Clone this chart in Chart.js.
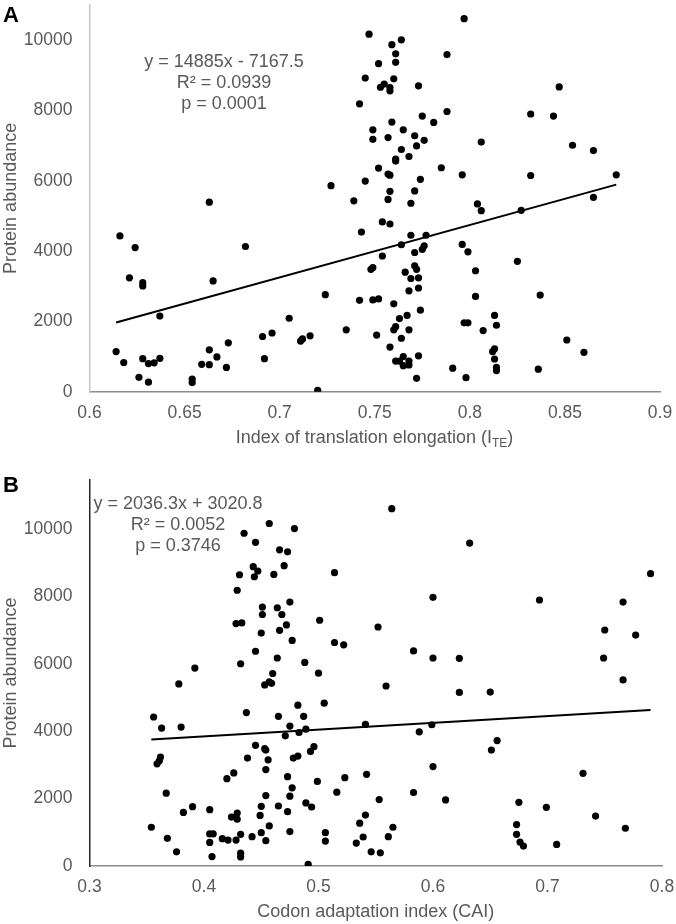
<!DOCTYPE html>
<html lang="en">
<head>
<meta charset="UTF-8">
<title>Protein abundance vs ITE and CAI</title>
<script src="https://cdn.jsdelivr.net/npm/chart.js"></script>
<style>
  body { margin: 0; background: #fff; font-family: "Liberation Sans", Arial, sans-serif; color: #595959; }
  #page { position: relative; width: 676px; height: 924px; overflow: hidden; }
  canvas { position: absolute; left: 0; }
  #chartA { top: 0; }
  #chartB { top: 450px; }
  .panel { position: absolute; left: 3px; font: bold 22px "Liberation Sans", Arial, sans-serif; line-height: 22px; color: #000; }
  .eq { position: absolute; width: 300px; text-align: center; font-size: 18px; line-height: 21px; }
  .xtitle { position: absolute; left: 89px; width: 571px; text-align: center; font-size: 18px; line-height: 21px; }
  sub { font-size: 12px; line-height: 0; vertical-align: -4px; }
</style>
</head>
<body>
<div id="page">
  <canvas id="chartA" width="676" height="450"></canvas>
  <canvas id="chartB" width="676" height="474"></canvas>

  <div class="panel" style="top:4px">A</div>
  <div class="eq" style="left:74px; top:51px">y = 14885x - 7167.5<br>R² = 0.0939<br>p = 0.0001</div>
  <div class="xtitle" style="top:427px">Index of translation elongation (I<sub>TE</sub>)</div>

  <div class="panel" style="top:474px">B</div>
  <div class="eq" style="left:28px; top:493px">y = 2036.3x + 3020.8<br>R² = 0.0052<br>p = 0.3746</div>
</div>

<script>
// Panel A: index of translation elongation vs protein abundance
const iteA = [
  0.614, 0.616, 0.618, 0.621, 0.624, 0.626, 0.628, 0.628, 0.628, 0.631, 0.631, 0.634, 0.637, 0.637,
  0.654, 0.654, 0.659, 0.663, 0.663, 0.663, 0.665, 0.667, 0.672, 0.673, 0.682, 0.691, 0.692, 0.696,
  0.705, 0.711, 0.712, 0.716, 0.720, 0.724, 0.727,
  0.797, 0.747, 0.759, 0.764, 0.761, 0.761, 0.752, 0.788, 0.745, 0.760, 0.753, 0.755, 0.758, 0.758,
  0.773, 0.847, 0.742, 0.832, 0.844, 0.788, 0.775, 0.781, 0.759, 0.749, 0.765, 0.749, 0.757, 0.771,
  0.776, 0.772, 0.806, 0.854, 0.865, 0.764, 0.768, 0.761, 0.761, 0.752, 0.785, 0.796, 0.832, 0.877,
  0.757, 0.758, 0.745, 0.774, 0.758, 0.771, 0.865, 0.739, 0.757,
  0.769, 0.804, 0.806, 0.827, 0.754, 0.758, 0.743, 0.769, 0.777, 0.764, 0.776, 0.775, 0.796, 0.799,
  0.754, 0.771, 0.825, 0.748, 0.749, 0.771, 0.772, 0.803, 0.766, 0.769, 0.773, 0.773, 0.768, 0.742,
  0.749, 0.752, 0.803, 0.837, 0.760, 0.774, 0.767, 0.763, 0.813, 0.814, 0.797, 0.799, 0.807, 0.735,
  0.761, 0.760, 0.768, 0.751, 0.764, 0.851, 0.758, 0.860, 0.813, 0.812, 0.813, 0.773, 0.765, 0.761,
  0.763, 0.768, 0.765, 0.768, 0.791, 0.814, 0.814, 0.836, 0.772, 0.798
];
const abundA = [
  1140, 4430, 830, 3240, 4100, 410, 3100, 3010, 940, 270, 800, 820, 950, 2150,
  360, 260, 780, 5390, 1190, 770, 3150, 990, 690, 1390, 4130, 1570, 940, 1670,
  2090, 1440, 1500, 1590, 40, 2760, 5860,
  10610, 10170, 9870, 10010, 9610, 9370, 9330, 9590, 8920, 8900, 8660, 8750, 8650, 8560,
  8700, 8670, 8190, 7900, 7840, 7970, 7840, 7660, 7670, 7450, 7450, 7180, 7230, 7280,
  7150, 6990, 7100, 7010, 6860, 6890, 6690, 6620, 6560, 6360, 6370, 6170, 6150, 6170,
  6190, 6160, 5990, 6040, 5700, 5710, 5530, 5430, 5470,
  5360, 5340, 5150, 5160, 4830, 4770, 4540, 4450, 4450, 4180, 4150, 4050, 4190, 3980,
  3860, 3960, 3710, 3480, 3530, 3580, 3480, 3440, 3400, 3220, 3240, 2950, 2870, 2600,
  2610, 2640, 2710, 2750, 2500, 2320, 2170, 2080, 2170, 1890, 1960, 1960, 1740, 1760,
  1850, 1760, 1760, 1610, 1520, 1470, 1270, 1120, 1220, 1140, 930, 1020, 1000, 870,
  870, 870, 740, 760, 670, 690, 600, 640, 380, 400
];
const fitAx = [0.614, 0.877];
const fitAy = [1970, 5890];

// Panel B: codon adaptation index vs protein abundance
const caiB = [
  0.435, 0.457, 0.479, 0.445, 0.466, 0.473, 0.443, 0.447, 0.470, 0.431, 0.444, 0.461, 0.514, 0.429,
  0.475, 0.451, 0.464, 0.451, 0.468, 0.428, 0.433, 0.472, 0.501, 0.450, 0.466, 0.477, 0.514, 0.445,
  0.564, 0.632, 0.790, 0.600, 0.693, 0.766, 0.552, 0.750, 0.777, 0.522,
  0.583, 0.600, 0.623, 0.749, 0.766, 0.559, 0.623, 0.650, 0.541, 0.599, 0.588, 0.656, 0.651, 0.600,
  0.523, 0.542, 0.731, 0.516, 0.583, 0.553, 0.611, 0.675, 0.699, 0.742, 0.541, 0.536, 0.673, 0.565,
  0.768, 0.539, 0.561, 0.673, 0.533, 0.676, 0.679, 0.708, 0.546, 0.554,
  0.432, 0.464, 0.488, 0.392, 0.460, 0.500, 0.378, 0.453, 0.457, 0.459, 0.505, 0.482, 0.437, 0.465,
  0.487, 0.356, 0.363, 0.380, 0.475, 0.489, 0.483, 0.471, 0.445, 0.453, 0.454, 0.496, 0.493, 0.362,
  0.361, 0.359, 0.438, 0.456, 0.478, 0.482, 0.454, 0.426, 0.420, 0.473, 0.499, 0.477, 0.367, 0.454,
  0.475, 0.390, 0.382, 0.405, 0.450, 0.465, 0.473, 0.489, 0.494, 0.424, 0.429, 0.429, 0.449, 0.457,
  0.354, 0.405, 0.408, 0.405, 0.432, 0.450, 0.475, 0.506, 0.506, 0.368, 0.416, 0.421, 0.428, 0.442,
  0.454, 0.376, 0.407, 0.432, 0.432, 0.491
];
const abundB = [
  9870, 10160, 10010, 9600, 9380, 9320, 8880, 8750, 8910, 8640, 8580, 8650, 8700, 8180,
  7830, 7680, 7660, 7460, 7460, 7190, 7210, 7150, 7290, 6910, 6990, 6690, 6630, 6370,
  10600, 9580, 8670, 7970, 7890, 7830, 7090, 7000, 6850, 6560,
  6380, 6170, 6160, 6170, 5520, 5340, 5150, 5160, 4200, 4190, 3980, 3720, 3440, 2950,
  2620, 2720, 2750, 2190, 2180, 1970, 1960, 1890, 1740, 1480, 1510, 1270, 1230, 1150,
  1120, 860, 870, 940, 680, 710, 590, 640, 420, 390,
  6000, 6170, 6040, 5870, 5710, 5720, 5400, 5370, 5460, 5420, 4830, 4770, 4550, 4440,
  4440, 4420, 4090, 4120, 4150, 4060, 3960, 3860, 3580, 3480, 3440, 3540, 3400, 3230,
  3120, 3030, 3200, 3150, 3200, 3260, 2860, 2760, 2590, 2650, 2510, 2320, 2160, 2090,
  2070, 1760, 1590, 1670, 1770, 1780, 1610, 1870, 1750, 1450, 1570, 1390, 1500, 1190,
  1150, 950, 950, 700, 940, 990, 1020, 990, 740, 820, 810, 770, 770, 870,
  750, 420, 280, 380, 270, 50
];
const fitBx = [0.354, 0.790];
const fitBy = [3750, 4630];

const xTicksA = [0.6, 0.65, 0.7, 0.75, 0.8, 0.85, 0.9];
const xTicksB = [0.3, 0.4, 0.5, 0.6, 0.7, 0.8];
const yTicks = [0, 2000, 4000, 6000, 8000, 10000];

const grey = '#595959';
const tickFont = { family: '"Liberation Sans", Arial, sans-serif', size: 17.5 };
const titleFont = { family: '"Liberation Sans", Arial, sans-serif', size: 18 };

function pairs(xs, ys) {
  return xs.map((x, i) => ({ x: x, y: ys[i] }));
}

function makeChart(id, cfg) {
  const ctx = document.getElementById(id).getContext('2d');
  return new Chart(ctx, {
    type: 'scatter',
    data: {
      datasets: [{
        data: pairs(cfg.xs, cfg.ys),
        pointRadius: 3.6,
        pointBackgroundColor: '#000',
        pointBorderWidth: 0
      }, {
        data: pairs(cfg.fitX, cfg.fitY),
        showLine: true,
        borderColor: '#000',
        borderWidth: 2,
        pointRadius: 0
      }]
    },
    options: {
      responsive: false,
      devicePixelRatio: 1,
      animation: false,
      layout: { padding: { left: 0, right: cfg.padRight, top: cfg.padTop, bottom: 0 } },
      plugins: { legend: { display: false }, tooltip: { enabled: false } },
      scales: {
        x: {
          type: 'linear',
          bounds: 'data',
          min: cfg.xTicks[0],
          max: cfg.xTicks[cfg.xTicks.length - 1],
          afterBuildTicks: s => { s.ticks = cfg.xTicks.map(v => ({ value: v })); },
          afterFit: s => { s.height = cfg.xHeight; s.paddingLeft = 0; s.paddingRight = 0; },
          grid: { display: false, drawTicks: false },
          border: { color: cfg.xLine, width: 1.5 },
          ticks: { color: grey, font: tickFont, padding: 11, maxRotation: 0, autoSkip: false, callback: v => String(v) },
          title: { display: !!cfg.xTitle, text: cfg.xTitle || '', color: grey, font: titleFont, padding: { top: 0, bottom: 1 } }
        },
        y: {
          type: 'linear',
          bounds: 'data',
          min: 0,
          max: cfg.yMax,
          afterBuildTicks: s => { s.ticks = yTicks.map(v => ({ value: v })); },
          afterFit: s => { s.width = 89.5; s.paddingTop = 0; s.paddingBottom = 0; },
          grid: { display: false, drawTicks: false },
          border: { color: cfg.yLine, width: 1.5 },
          ticks: { color: grey, font: tickFont, padding: 17, callback: v => String(v) },
          title: { display: true, text: 'Protein abundance', color: grey, font: titleFont, padding: 0 }
        }
      }
    }
  });
}

makeChart('chartA', {
  xs: iteA, ys: abundA, fitX: fitAx, fitY: fitAy,
  xTicks: xTicksA, yMax: 11000,
  padTop: 5, padRight: 16, xHeight: 58.3,
  xLine: '#8c8c8c', yLine: '#c8c8c8'
});

makeChart('chartB', {
  xs: caiB, ys: abundB, fitX: fitBx, fitY: fitBy,
  xTicks: xTicksB, yMax: 11450,
  padTop: 30, padRight: 14, xHeight: 58,
  xLine: '#8c8c8c', yLine: '#262626',
  xTitle: 'Codon adaptation index (CAI)'
});
</script>
</body>
</html>
